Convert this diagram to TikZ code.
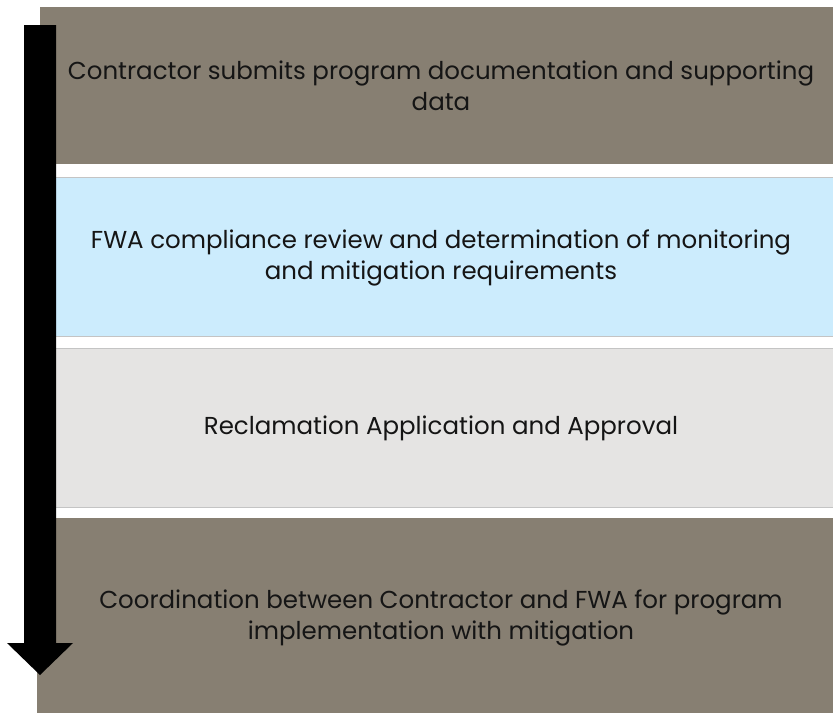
\documentclass[tikz,border=0pt]{standalone}
\usepackage{fontspec}
\setmainfont{Poppins}
\definecolor{taupe}{HTML}{877F72}
\definecolor{paleblue}{HTML}{CCECFD}
\definecolor{palegray}{HTML}{E5E4E3}
\definecolor{edgegray}{HTML}{C4C4C4}
\definecolor{txt}{HTML}{151515}
\tikzset{
  stagetext/.style={text=txt, align=center, inner sep=0pt, font=\fontsize{24.5}{31}\selectfont},
}
\begin{document}
\begin{tikzpicture}[x=1pt,y=-1pt]
\useasboundingbox (0,0) rectangle (833,713);
\fill[white] (0,0) rectangle (833,713);
% boxes
\fill[taupe] (40,7) rectangle (833,164);
\filldraw[fill=paleblue, draw=edgegray, line width=0.8pt] (40,177) rectangle (834,336);
\filldraw[fill=palegray, draw=edgegray, line width=0.8pt] (40,348) rectangle (834,507);
\fill[taupe] (37,518) rectangle (833,713);
% texts
\node[stagetext] (t1) at (441,86) {Contractor submits program documentation and supporting\\data};
\node[stagetext] (t2) at (441,258) {FWA compliance review and determination of monitoring\\and mitigation requirements};
\node[stagetext] (t3) at (441,428) {Reclamation Application and Approval};
\node[stagetext] (t4) at (441,618) {Coordination between Contractor and FWA for program\\implementation with mitigation};
% arrow
\fill[black] (24,25) -- (56,25) -- (56,643) -- (73,643) -- (40,675) -- (7,643) -- (24,643) -- cycle;
\end{tikzpicture}
\end{document}
